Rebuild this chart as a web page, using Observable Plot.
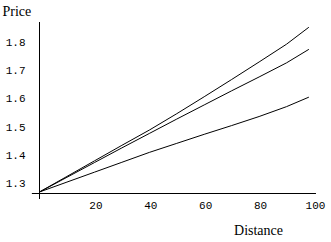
<!DOCTYPE html>
<html><head><meta charset="utf-8">
<script src="https://cdn.jsdelivr.net/npm/d3@7"></script>
<script src="https://cdn.jsdelivr.net/npm/@observablehq/plot@0.6"></script>
<style>
html,body{margin:0;padding:0;background:#fff;}
#chart svg{display:block;}
</style>
</head><body><div id="chart"></div>
<script>
const distance = [0, 10, 20, 30, 40, 50, 60, 70, 80, 90, 98];
const priceHigh = [1.27, 1.325, 1.38, 1.435, 1.489, 1.547, 1.607, 1.668, 1.73, 1.793, 1.852];
const priceMid  = [1.27, 1.322, 1.374, 1.426, 1.477, 1.528, 1.578, 1.628, 1.677, 1.727, 1.774];
const priceLow  = [1.27, 1.305, 1.34, 1.375, 1.41, 1.442, 1.474, 1.505, 1.537, 1.572, 1.605];
const xTicks = [20, 40, 60, 80, 100];
const yTicks = [1.3, 1.4, 1.5, 1.6, 1.7, 1.8];
const xTitle = "Distance";
const yTitle = "Price";

const rows = [];
[["high", priceHigh], ["mid", priceMid], ["low", priceLow]].forEach(([s, arr]) =>
  arr.forEach((v, i) => rows.push({series: s, x: distance[i], y: v})));

const yOrigin = 1.2646;
const plot = Plot.plot({
  width: 331, height: 242,
  margin: 0,
  style: {background: "#fff", overflow: "visible"},
  x: {domain: [0, 100], range: [39, 313.5], axis: null},
  y: {domain: [1.3, 1.8], range: [183, 41.7], axis: null},
  marks: [
    Plot.ruleY([yOrigin], {x1: -2.6, x2: 100.9, stroke: "#000", strokeWidth: 1}),
    Plot.ruleX([0], {y1: 1.2434, y2: 1.8697, stroke: "#000", strokeWidth: 1}),
    Plot.text(xTicks, {x: d => d, y: yOrigin, dy: 12, dx: 1.5, text: d => String(d),
      fontFamily: "Liberation Mono", fontSize: 11, fill: "#000"}),
    Plot.text(yTicks, {x: 0, y: d => d, dx: -14, textAnchor: "end", text: d => d.toFixed(1),
      fontFamily: "Liberation Mono", fontSize: 11, fill: "#000"}),
    Plot.line(rows, {x: "x", y: "y", z: "series", stroke: "#000", strokeWidth: 1}),
    Plot.text([xTitle], {x: 100, y: yOrigin, dy: 37, dx: -55.5, text: d => d, textAnchor: "middle",
      fontFamily: "Liberation Serif", fontSize: 14, fill: "#000"}),
    Plot.text([yTitle], {x: 0, y: 1.8697, dy: -11, dx: -37, text: d => d, textAnchor: "start",
      fontFamily: "Liberation Serif", fontSize: 14, fill: "#000"})
  ]
});
document.getElementById("chart").appendChild(plot);
</script>
</body></html>
